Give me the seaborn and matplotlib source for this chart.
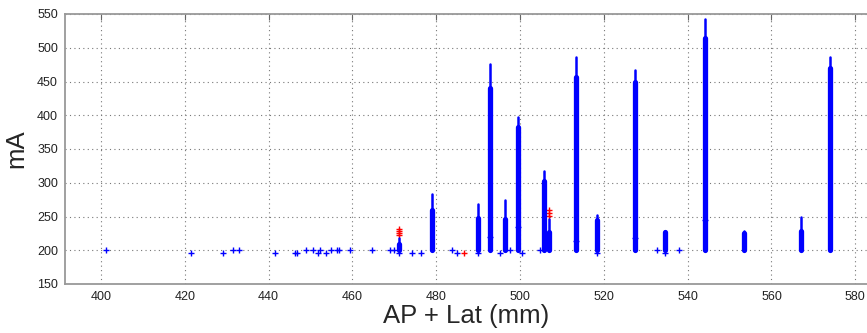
import numpy as np
import pandas as pd
import seaborn as sns
import matplotlib.pyplot as plt

# spikes: position, top of thin line, top of dense (thick) part
spike_x = [471.2, 479.1, 490.0, 492.8, 496.4, 499.4, 505.7, 506.8, 513.3,
           518.3, 527.4, 534.6, 544.2, 553.5, 567.0, 574.0]
spike_peak = [218, 283, 269, 476, 275, 397, 317, 246, 487,
              252, 467, 229, 542, 228, 250, 486]
spike_dense = [210, 260, 248, 441, 246, 383, 302, 227, 457,
               245, 449, 227, 514, 226, 229, 470]

# isolated blue markers
pts_x = [401.2, 421.4, 429.0, 431.6, 433.0, 441.6, 446.2, 446.7, 448.8, 450.7,
         451.7, 452.3, 453.7, 454.8, 456.3, 456.9, 459.4, 464.7, 469.0, 469.8,
         474.3, 476.3, 483.7, 484.9, 495.2, 497.6, 500.5, 504.8, 532.8, 538.0,
         471.2, 490.0, 518.3, 492.8, 499.4, 513.3, 527.4, 544.2, 534.6]
pts_y = [200, 196, 196, 200, 200, 196, 196, 196, 200, 200,
         196, 200, 196, 200, 200, 200, 200, 200, 200, 200,
         196, 196, 200, 196, 196, 200, 196, 200, 200, 200,
         196, 196, 196, 220, 235, 214, 218, 245, 196]

# red markers
red_x = [471.2, 471.2, 471.2, 471.2, 486.6, 506.8, 506.8, 506.8]
red_y = [222, 226, 229, 232, 196, 251, 255, 259]

base = 200

sns.set_style('white')
plt.rcParams['font.family'] = ['Liberation Sans', 'DejaVu Sans']

thin = pd.DataFrame({'x': np.repeat(spike_x, 2),
                     'y': np.ravel(np.column_stack([[base] * len(spike_x), spike_peak])),
                     'spike': np.repeat(range(len(spike_x)), 2)})
thick = pd.DataFrame({'x': np.repeat(spike_x, 2),
                      'y': np.ravel(np.column_stack([[base] * len(spike_x), spike_dense])),
                      'spike': np.repeat(range(len(spike_x)), 2)})

fig = plt.figure(figsize=(8.67, 3.33), dpi=100)
ax = fig.add_axes([65 / 867, 49 / 333, 802 / 867, 270 / 333])

sns.lineplot(data=thin, x='x', y='y', units='spike', estimator=None, sort=False,
             color='blue', lw=1.8, legend=False, ax=ax)
sns.lineplot(data=thick, x='x', y='y', units='spike', estimator=None, sort=False,
             color='blue', lw=3.8, legend=False, ax=ax)
sns.scatterplot(x=pts_x, y=pts_y, marker='+', color='blue',
                s=18, linewidth=1, ax=ax)
sns.scatterplot(x=red_x, y=red_y, marker='+', color='red',
                s=18, linewidth=1, ax=ax)

ax.set_xlim(391.4, 582.8)
ax.set_ylim(150, 550)
ax.set_xticks(np.arange(400, 581, 20))
ax.set_yticks(np.arange(150, 551, 50))
ax.grid(True, linestyle=(0, (1, 3)), color='#777777', lw=0.8)
ax.tick_params(direction='in', length=4, top=True, labelsize=9, pad=5,
               color='#666666', labelcolor='#222222')
for side in ['left', 'bottom', 'top']:
    ax.spines[side].set_color('#999999')
    ax.spines[side].set_linewidth(1.3)
ax.spines['right'].set_visible(False)
ax.set_xlabel('AP + Lat (mm)', fontsize=18.5, labelpad=1)
ax.set_ylabel('mA', fontsize=18.5, labelpad=6)

fig.savefig('out.png', dpi=100)
